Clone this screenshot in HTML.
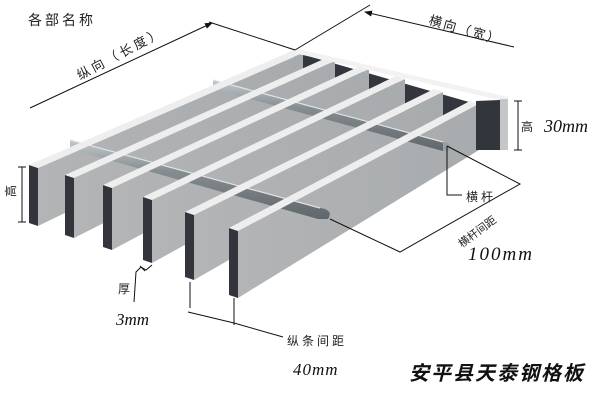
<!DOCTYPE html>
<html><head><meta charset="utf-8"><style>
html,body{margin:0;padding:0;background:#fff;}
svg{display:block;}
.t{font-family:"Liberation Sans","Noto Sans CJK SC",sans-serif;fill:#222;}
.m{font-family:"Liberation Serif",serif;font-style:italic;fill:#111;}
</style></head><body>
<svg width="609" height="418" viewBox="0 0 609 418" xmlns="http://www.w3.org/2000/svg">
<defs>
<linearGradient id="side" x1="0" y1="0" x2="1" y2="0">
<stop offset="0" stop-color="#b2b4b6"/><stop offset="1" stop-color="#a8abad"/></linearGradient>
<linearGradient id="rod" x1="0" y1="0" x2="0" y2="1">
<stop offset="0" stop-color="#c2c8cb"/><stop offset="0.4" stop-color="#858d91"/><stop offset="1" stop-color="#5f676b"/></linearGradient>
<marker id="ah" markerWidth="8" markerHeight="8" refX="7" refY="4" orient="auto" markerUnits="userSpaceOnUse">
<path d="M0,1 L8,4 L0,7 Z" fill="#111"/></marker>
</defs>

<polygon points="294,52 476,104 476,150 294,100" fill="#34363e"/>

<g stroke="none">
<polygon points="38,168 303,53 303,98 38,226" fill="url(#side)"/>
<polygon points="29,165 38,168 38,226 29,223" fill="#34343c"/>
<polygon points="74,178 335,61 335,106 74,238" fill="url(#side)"/>
<polygon points="65,175 74,178 74,238 65,235" fill="#34343c"/>
<polygon points="112,188 369,69 369,114 112,250" fill="url(#side)"/>
<polygon points="103,185 112,188 112,250 103,247" fill="#34343c"/>
<polygon points="152,200 405,79 405,124 152,263" fill="url(#side)"/>
<polygon points="143,197 152,200 152,263 143,260" fill="#34343c"/>
<polygon points="194,215 443,92 443,137 194,280" fill="url(#side)"/>
<polygon points="185,212 194,215 194,280 185,277" fill="#34343c"/>
<polygon points="238,231 479,104 479,150 238,298" fill="url(#side)"/>
<polygon points="229,228 238,231 238,298 229,295" fill="#34343c"/>
</g>

<!-- twisted rods (below bar tops) -->
<path d="M213,80 L443,142 L443,151 L213,89 Z" fill="url(#rod)"/>
<path d="M443,142 Q453,142 449,151 L443,151 Z" fill="#9aa1a5"/>
<path d="M70,140 L320,208 Q334,210 328,219 L318,219 L70,149 Z" fill="url(#rod)"/>
<g stroke="#dfe3e5" stroke-width="1.2">
<line x1="213" y1="80" x2="443" y2="142"/>
<line x1="70" y1="140" x2="320" y2="208"/>
</g>

<!-- bar tops over rods -->
<g fill="#eeeeee">
<polygon points="29,165 38,168 303,53 294,50"/>
<polygon points="65,175 74,178 335,61 326,58"/>
<polygon points="103,185 112,188 369,69 360,66"/>
<polygon points="143,197 152,200 405,79 396,76"/>
<polygon points="185,212 194,215 443,92 434,89"/>
<polygon points="229,228 238,231 479,104 470,101"/>
</g>

<polygon points="289,47 508,97 508,102 294,53" fill="#f2f2f2"/>
<polygon points="476,101 500,100 500,150 476,150" fill="#33353d"/>
<polygon points="500,99 508,99 508,150 500,150" fill="#c4c6c8"/>

<g stroke="#111" stroke-width="1" fill="none">
<line x1="30" y1="108" x2="212" y2="23" marker-end="url(#ah)"/>
<line x1="209" y1="22" x2="295" y2="50"/>
<line x1="295" y1="50" x2="370" y2="5"/>
<line x1="514" y1="47" x2="365" y2="12" marker-end="url(#ah)"/>
<line x1="518" y1="101" x2="518" y2="150"/>
<line x1="514" y1="101" x2="522" y2="101"/>
<line x1="514" y1="150" x2="522" y2="150"/>
<line x1="22" y1="167" x2="22" y2="222"/>
<line x1="18" y1="167" x2="26" y2="167"/>
<line x1="18" y1="222" x2="26" y2="222"/>
<polyline points="447,146 447,195 462,195"/>
<polyline points="447,146 520,184 400,252 330,219"/>
<polyline points="152,265 146,270 141,267 136,272 134,302"/>
<line x1="140" y1="266" x2="145" y2="271"/>
<line x1="190" y1="282" x2="190" y2="308"/>
<line x1="234" y1="298" x2="234" y2="325"/>
<line x1="188" y1="312" x2="234" y2="323"/>
<line x1="234" y1="323" x2="283" y2="337"/>
</g>

<text class="t" x="28" y="25" font-size="14" letter-spacing="3">各部名称</text>
<text class="t" font-size="13" letter-spacing="3" transform="translate(80,80) rotate(-28)">纵向（长度）</text>
<text class="t" font-size="13" letter-spacing="2" transform="translate(428,24) rotate(16)">横向（宽）</text>
<text class="t" x="521" y="131" font-size="12">高</text>
<text class="m" x="544" y="132" font-size="18">30mm</text>
<text class="t" font-size="12" transform="translate(15,197) rotate(-90)">高</text>
<text class="t" x="466" y="201" font-size="12" letter-spacing="3">横杆</text>
<text class="t" font-size="11" transform="translate(462,248) rotate(-37)">横杆间距</text>
<text class="m" x="468" y="260" font-size="19" letter-spacing="2">100mm</text>
<text class="t" x="118" y="293" font-size="12">厚</text>
<text class="m" x="116" y="325" font-size="17">3mm</text>
<text class="t" x="287" y="345" font-size="12" letter-spacing="3">纵条间距</text>
<text class="m" x="293" y="375" font-size="17" letter-spacing="1">40mm</text>
<text class="t" x="409" y="380" font-size="20" font-style="italic" font-weight="bold" letter-spacing="2" style="fill:#111">安平县天泰钢格板</text>
</svg>
</body></html>
